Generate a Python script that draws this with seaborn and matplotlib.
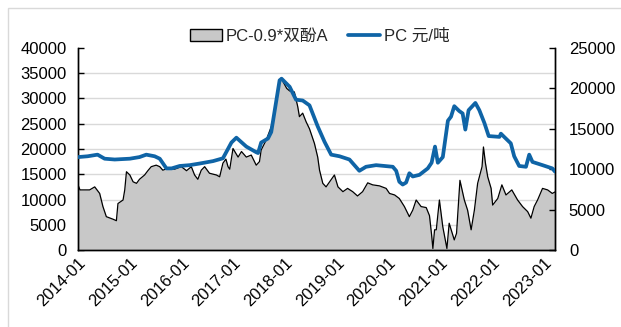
import numpy as np
import pandas as pd
import matplotlib
matplotlib.use("Agg")
import matplotlib.pyplot as plt
import matplotlib.dates as mdates
from matplotlib.patches import Patch, Rectangle
from matplotlib.lines import Line2D
import seaborn as sns

# PC price (yuan/ton), right axis
pc_dates = [
    "2014-01-01", "2014-03-10", "2014-05-19", "2014-07-08", "2014-09-17",
    "2015-01-02", "2015-03-11", "2015-04-28", "2015-06-26", "2015-08-01",
    "2015-09-17", "2015-10-24", "2015-12-20", "2016-02-28", "2016-05-08",
    "2016-08-11", "2016-10-20", "2016-12-19", "2017-01-23", "2017-04-03",
    "2017-06-12", "2017-06-25", "2017-07-17", "2017-09-03", "2017-09-26",
    "2017-10-19", "2017-11-24", "2017-12-08", "2018-02-03", "2018-03-20",
    "2018-05-06", "2018-06-23", "2018-08-20", "2018-10-07", "2018-11-23",
    "2019-01-21", "2019-04-01", "2019-06-10", "2019-07-27", "2019-10-06",
    "2020-02-01", "2020-02-25", "2020-03-18", "2020-04-11", "2020-05-05",
    "2020-05-28", "2020-06-21", "2020-08-07", "2020-10-05", "2020-11-01",
    "2020-11-25", "2020-12-15", "2021-01-19", "2021-02-24", "2021-03-18",
    "2021-04-10", "2021-05-15", "2021-06-08", "2021-06-27", "2021-07-20",
    "2021-09-06", "2021-10-04", "2021-11-09", "2021-12-09", "2022-02-23",
    "2022-03-05", "2022-03-28", "2022-05-14", "2022-06-07", "2022-07-12",
    "2022-08-29", "2022-09-21", "2022-10-14", "2022-12-24", "2023-03-03",
    "2023-03-22",
]
pc_price = [
    11500, 11600, 11800, 11300, 11200,
    11300, 11500, 11800, 11600, 11300,
    10100, 10100, 10400, 10500, 10700,
    11000, 11350, 13300, 13900, 12800,
    12100, 12000, 13300, 13800, 14600,
    17100, 21000, 21200, 20200, 18600,
    18500, 17900, 15300, 13400, 11800,
    11600, 11200, 9800, 10300, 10500,
    10300, 9800, 8450, 8100, 8350,
    9500, 9100, 9300, 10100, 10800,
    12800, 10800, 11500, 16000, 16500,
    17800, 17200, 16900, 14900, 17300,
    18200, 17300, 15700, 14100, 14000,
    14400, 14000, 13200, 11600, 10400,
    10300, 11800, 10900, 10500, 10100,
    9700,
]

# PC minus 0.9 x bisphenol A spread, left axis
spread_dates = [
    "2014-01-01", "2014-01-15", "2014-03-24", "2014-04-29", "2014-06-03",
    "2014-06-26", "2014-07-20", "2014-09-05", "2014-09-29", "2014-10-10",
    "2014-11-15", "2014-11-27", "2014-12-09", "2015-01-02", "2015-01-25",
    "2015-02-18", "2015-03-11", "2015-04-16", "2015-05-09", "2015-06-02",
    "2015-07-07", "2015-08-01", "2015-08-23", "2015-09-28", "2015-11-14",
    "2016-01-01", "2016-02-06", "2016-03-11", "2016-04-03", "2016-04-26",
    "2016-05-20", "2016-06-13", "2016-07-17", "2016-09-04", "2016-09-27",
    "2016-10-20", "2016-11-10", "2016-11-25", "2016-12-07", "2016-12-30",
    "2017-02-04", "2017-02-28", "2017-04-03", "2017-05-08", "2017-06-12",
    "2017-07-05", "2017-07-17", "2017-08-22", "2017-09-26", "2017-10-19",
    "2017-11-12", "2017-12-01", "2017-12-15", "2018-01-13", "2018-02-03",
    "2018-03-08", "2018-04-01", "2018-04-13", "2018-05-06", "2018-05-30",
    "2018-06-23", "2018-07-28", "2018-08-20", "2018-09-02", "2018-09-25",
    "2018-10-18", "2018-11-12", "2018-12-16", "2019-01-10", "2019-02-14",
    "2019-03-19", "2019-04-24", "2019-05-28", "2019-07-03", "2019-08-08",
    "2019-09-12", "2019-10-30", "2019-12-16", "2020-01-09", "2020-02-14",
    "2020-03-18", "2020-04-23", "2020-05-28", "2020-06-21", "2020-07-15",
    "2020-08-19", "2020-09-24", "2020-10-17", "2020-11-01", "2020-11-10",
    "2020-11-22", "2020-12-04", "2020-12-26", "2021-01-19", "2021-02-17",
    "2021-03-05", "2021-04-10", "2021-04-26", "2021-05-20", "2021-06-20",
    "2021-07-13", "2021-08-07", "2021-08-30", "2021-09-22", "2021-10-23",
    "2021-11-02", "2021-11-16", "2021-12-02", "2021-12-26", "2022-01-06",
    "2022-02-11", "2022-03-12", "2022-04-10", "2022-05-21", "2022-07-01",
    "2022-08-05", "2022-09-10", "2022-10-03", "2022-10-26", "2022-11-19",
    "2022-12-24", "2023-01-29", "2023-03-03", "2023-03-22",
]
spread = [
    12900, 11900, 11900, 12500, 11200,
    8600, 6600, 6100, 5800, 9200,
    9900, 11900, 15500, 14850, 13500,
    13200, 14000, 14850, 15700, 16500,
    16800, 16500, 15800, 16200, 16000,
    16500, 15700, 16500, 14850, 14000,
    15800, 16500, 15200, 14850, 14500,
    17200, 18000, 16500, 16000, 20100,
    18400, 19500, 18400, 18800, 16800,
    17500, 19800, 21800, 24400, 27100,
    31700, 34000, 33500, 32000, 31500,
    31300, 28400, 26400, 27100, 25400,
    24000, 21100, 18400, 15800, 13200,
    12500, 13500, 14850, 12500, 11550,
    12200, 11550, 10700, 11550, 13300,
    12900, 12700, 12200, 11200, 10900,
    10200, 8600, 6600, 7900, 9900,
    8600, 8400, 6800, 3000, 300,
    4000, 4000, 9900, 4600, 300,
    5300, 2000, 3300, 13800, 9900,
    7900, 4000, 7900, 13200, 16500,
    20400, 17200, 14500, 12200, 8900,
    10200, 12900, 10900, 11900, 9900,
    8600, 7600, 6300, 8600, 9900,
    12200, 11900, 11200, 11500,
]

year_ticks = [f"{y}-01-01" for y in range(2014, 2024)]
left_ticks = [0, 5000, 10000, 15000, 20000, 25000, 30000, 35000, 40000]
right_ticks = [0, 5000, 10000, 15000, 20000, 25000]
label_spread = "PC-0.9*双酚A"
label_pc = "PC 元/吨"

pc_df = pd.DataFrame({"date": pd.to_datetime(pc_dates), "value": pc_price})
sp_df = pd.DataFrame({"date": pd.to_datetime(spread_dates), "value": spread})

sns.set_theme(style="white")
plt.rcParams["font.family"] = ["Liberation Sans", "Noto Sans CJK SC", "DejaVu Sans"]
plt.rcParams["axes.unicode_minus"] = False

FS = 12
GREY = "#c8c8c8"
BLUE = "#0f64a6"

fig = plt.figure(figsize=(6.21, 3.27), dpi=100)
ax = fig.add_axes([78 / 621, 1 - 250 / 327, (555 - 78) / 621, (250 - 48) / 327])
ax2 = ax.twinx()

# light frame around the figure
fig.patches.append(Rectangle((7.5 / 621, -0.2), 1.2, 1.2 - 7.5 / 327,
                             transform=fig.transFigure, fill=False,
                             edgecolor="#d9d9d9", linewidth=1.0, zorder=0))

# horizontal guides for the left scale
for v in left_ticks[1:-1]:
    ax.axhline(v, color="#d9d9d9", linewidth=1.0, zorder=0)

ax.fill_between(sp_df["date"], 0, sp_df["value"], color=GREY, linewidth=0, zorder=1)
sns.lineplot(data=sp_df, x="date", y="value", ax=ax, color="black",
             linewidth=0.9, zorder=2, legend=False)
sns.lineplot(data=pc_df, x="date", y="value", ax=ax2, color=BLUE,
             linewidth=2.7, zorder=3, legend=False)

xmin, xmax = pd.Timestamp("2014-01-01"), pd.Timestamp("2023-03-22")
for a in (ax, ax2):
    a.set_xlim(xmin, xmax)
    a.set_xlabel("")
    a.set_ylabel("")
    a.grid(False)

ax.set_ylim(0, 40000)
ax2.set_ylim(0, 25000)
ax.set_yticks(left_ticks)
ax2.set_yticks(right_ticks)
ax.set_yticklabels([str(v) for v in left_ticks], fontsize=FS)
ax2.set_yticklabels([str(v) for v in right_ticks], fontsize=FS)

ax.set_xticks(pd.to_datetime(year_ticks))
ax.xaxis.set_major_formatter(mdates.DateFormatter("%Y-%m"))
plt.setp(ax.get_xticklabels(), rotation=45, ha="right", rotation_mode="anchor",
         fontsize=FS)

for a in (ax, ax2):
    for side in ("left", "right", "bottom"):
        a.spines[side].set_visible(True)
        a.spines[side].set_color("black")
        a.spines[side].set_linewidth(1.0)
    a.spines["top"].set_visible(False)
    a.tick_params(direction="in", length=4, width=1, color="black",
                  labelcolor="black", labelsize=FS)
ax.tick_params(axis="y", pad=8)
ax2.tick_params(axis="y", pad=10)
ax.tick_params(axis="x", pad=4)
ax.patch.set_visible(False)

handles = [
    Patch(facecolor=GREY, edgecolor="black", linewidth=1.0),
    Line2D([0], [0], color=BLUE, linewidth=2.7),
]
fig.legend(handles, [label_spread, label_pc], loc="center",
           bbox_to_anchor=(0.515, 1 - 36.5 / 327), ncol=2, frameon=False,
           fontsize=FS, handlelength=1.9, handleheight=0.75,
           handletextpad=0.25, columnspacing=1.2)

fig.savefig("out.png", dpi=100)
